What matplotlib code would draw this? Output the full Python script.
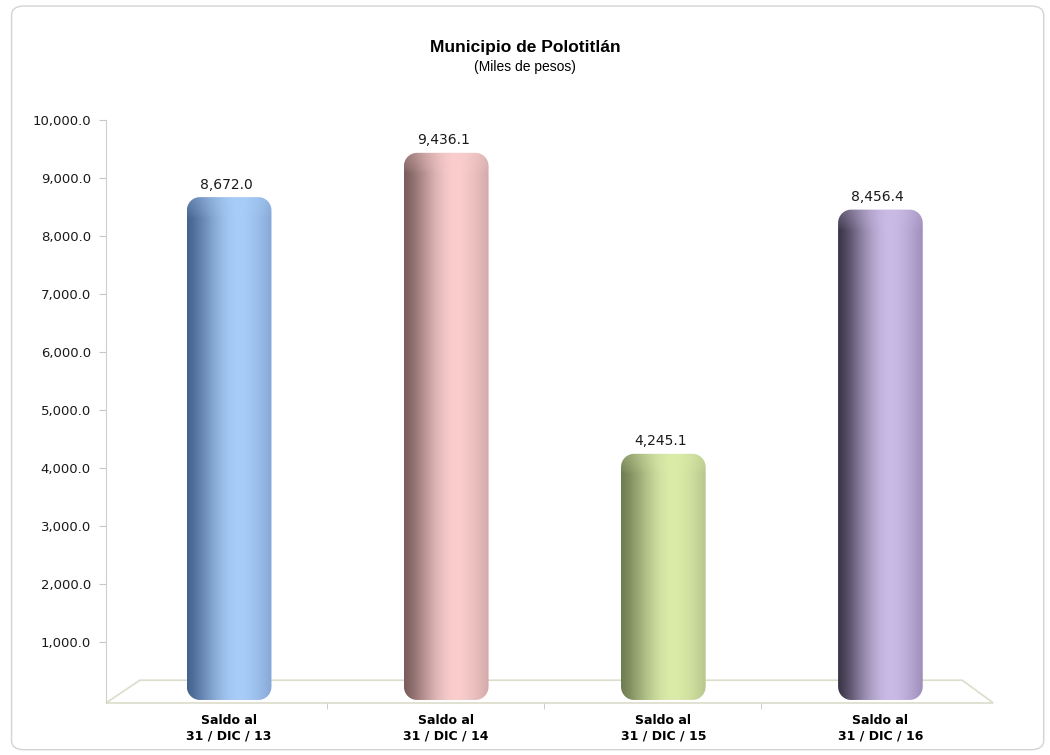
import numpy as np
import matplotlib.pyplot as plt
from matplotlib.patches import FancyBboxPatch, Polygon
from matplotlib.colors import to_rgb

# --- datos ---
categorias = ['Saldo al\n31 / DIC / 13', 'Saldo al\n31 / DIC / 14',
              'Saldo al\n31 / DIC / 15', 'Saldo al\n31 / DIC / 16']
saldos = [8672.0, 9436.1, 4245.1, 8456.4]
# (oscuro, claro, borde derecho) para cada cilindro
colores = [('#46638f', '#a8cdf8', '#86a7d6'),
           ('#7a5d5d', '#fbcdcd', '#d2a9a9'),
           ('#6f7d52', '#dbeca9', '#b6c78c'),
           ('#3a3548', '#cabae6', '#9d8fb9')]
yticks = [1000, 2000, 3000, 4000, 5000, 6000, 7000, 8000, 9000, 10000]

plt.rcParams['font.family'] = ['DejaVu Sans']

fig = plt.figure(figsize=(10.5, 7.55), dpi=100)
ax = fig.add_axes([0.101, 0.0689, 0.845, 0.772])

# marco redondeado
marco = FancyBboxPatch((0.011, 0.007), 0.983, 0.985, boxstyle='round,pad=0,rounding_size=0.012',
                       transform=fig.transFigure, fill=False, edgecolor='#d4d4d4', lw=1.0)
fig.patches.append(marco)

fig.text(0.5, 0.937, 'Municipio de Polotitlán', ha='center', va='center',
         fontsize=12.5, fontweight='bold', family='Liberation Sans')
fig.text(0.5, 0.911, '(Miles de pesos)', ha='center', va='center',
         fontsize=10, family='Liberation Sans')

x = np.arange(len(saldos))
ancho = 0.39
rx, ry = 0.06, 230.0  # radio de las esquinas (unidades de datos)


def cilindro(cx, h, oscuro, claro, derecho):
    x0, x1 = cx - ancho / 2, cx + ancho / 2
    th = np.linspace(0, np.pi / 2, 12)
    pts = []
    for a in th:
        pts.append((x0 + rx - rx * np.cos(a), ry - ry * np.sin(a)))
    for a in th[::-1]:
        pts.append((x1 - rx + rx * np.cos(a), ry - ry * np.sin(a)))
    for a in th:
        pts.append((x1 - rx + rx * np.cos(a), h - ry + ry * np.sin(a)))
    for a in th[::-1]:
        pts.append((x0 + rx - rx * np.cos(a), h - ry + ry * np.sin(a)))
    patch = Polygon(pts, closed=True, facecolor='none', edgecolor='none')
    ax.add_patch(patch)

    nx, ny = 160, 300
    t = np.linspace(0, 1, nx)
    d, c, r = np.array(to_rgb(oscuro)), np.array(to_rgb(claro)), np.array(to_rgb(derecho))
    # subida suave de oscuro a claro, luego bajada hacia el borde derecho
    s = np.clip(t / 0.62, 0, 1)
    f = np.sin(s * np.pi / 2) ** 1.3
    g = np.clip((t - 0.62) / 0.38, 0, 1) ** 1.6
    fila = d[None, :] + (c - d)[None, :] * f[:, None]
    fila = fila * (1 - g[:, None]) + r[None, :] * g[:, None]
    img = np.repeat(fila[None, :, :], ny, axis=0)
    # tapa superior: más clara arriba
    yy = np.linspace(h, 0, ny)
    px = (h - yy) * 0.058
    tapa = np.clip(1 - px / 20.0, 0, 1)[:, None, None] ** 0.7
    img = img * (1 - 0.3 * tapa) + 0.3 * tapa * c[None, None, :]
    img = np.clip(img, 0, 1)
    im = ax.imshow(img, extent=[x0, x1, 0, h], aspect='auto', origin='upper',
                   interpolation='bilinear', zorder=3)
    im.set_clip_path(patch)


for i, v in enumerate(saldos):
    cilindro(x[i], v, *colores[i])
    ax.annotate(f'{v:,.1f}', (x[i], v), xytext=(-2, 4), textcoords='offset points',
                ha='center', va='bottom', fontsize=10, color='#1a1a1a')

ax.set_xlim(-0.567, 3.52)
ax.set_ylim(-52, 10000)

# piso en perspectiva
piso = Polygon([(0.0, 0.0), (0.038, 0.039), (0.965, 0.039), (1.0, 0.0)], closed=True,
               transform=ax.transAxes, facecolor='none', edgecolor='#dcdccb', lw=1.2,
               clip_on=False, zorder=1)
ax.add_patch(piso)

ax.set_yticks(yticks)
ax.yaxis.set_major_formatter(plt.FuncFormatter(lambda v, p: f'{v:,.1f}'))
ax.set_xticks(x)
ax.set_xticklabels(categorias, fontsize=9, fontweight='bold')
ax.set_xticks([0.45, 1.45, 2.45], minor=True)
ax.tick_params(axis='x', which='major', length=0, pad=8)
ax.tick_params(axis='x', which='minor', length=4, color='#c8c8b8', direction='out')
ax.tick_params(axis='y', length=5, color='#c8c8c8', labelsize=9.5, pad=6, labelcolor='#1a1a1a')

for s in ['top', 'right', 'bottom']:
    ax.spines[s].set_visible(False)
ax.spines['left'].set_color('#d0d0c8')
ax.patch.set_alpha(0)

plt.savefig('out.png', dpi=100, facecolor='white')
